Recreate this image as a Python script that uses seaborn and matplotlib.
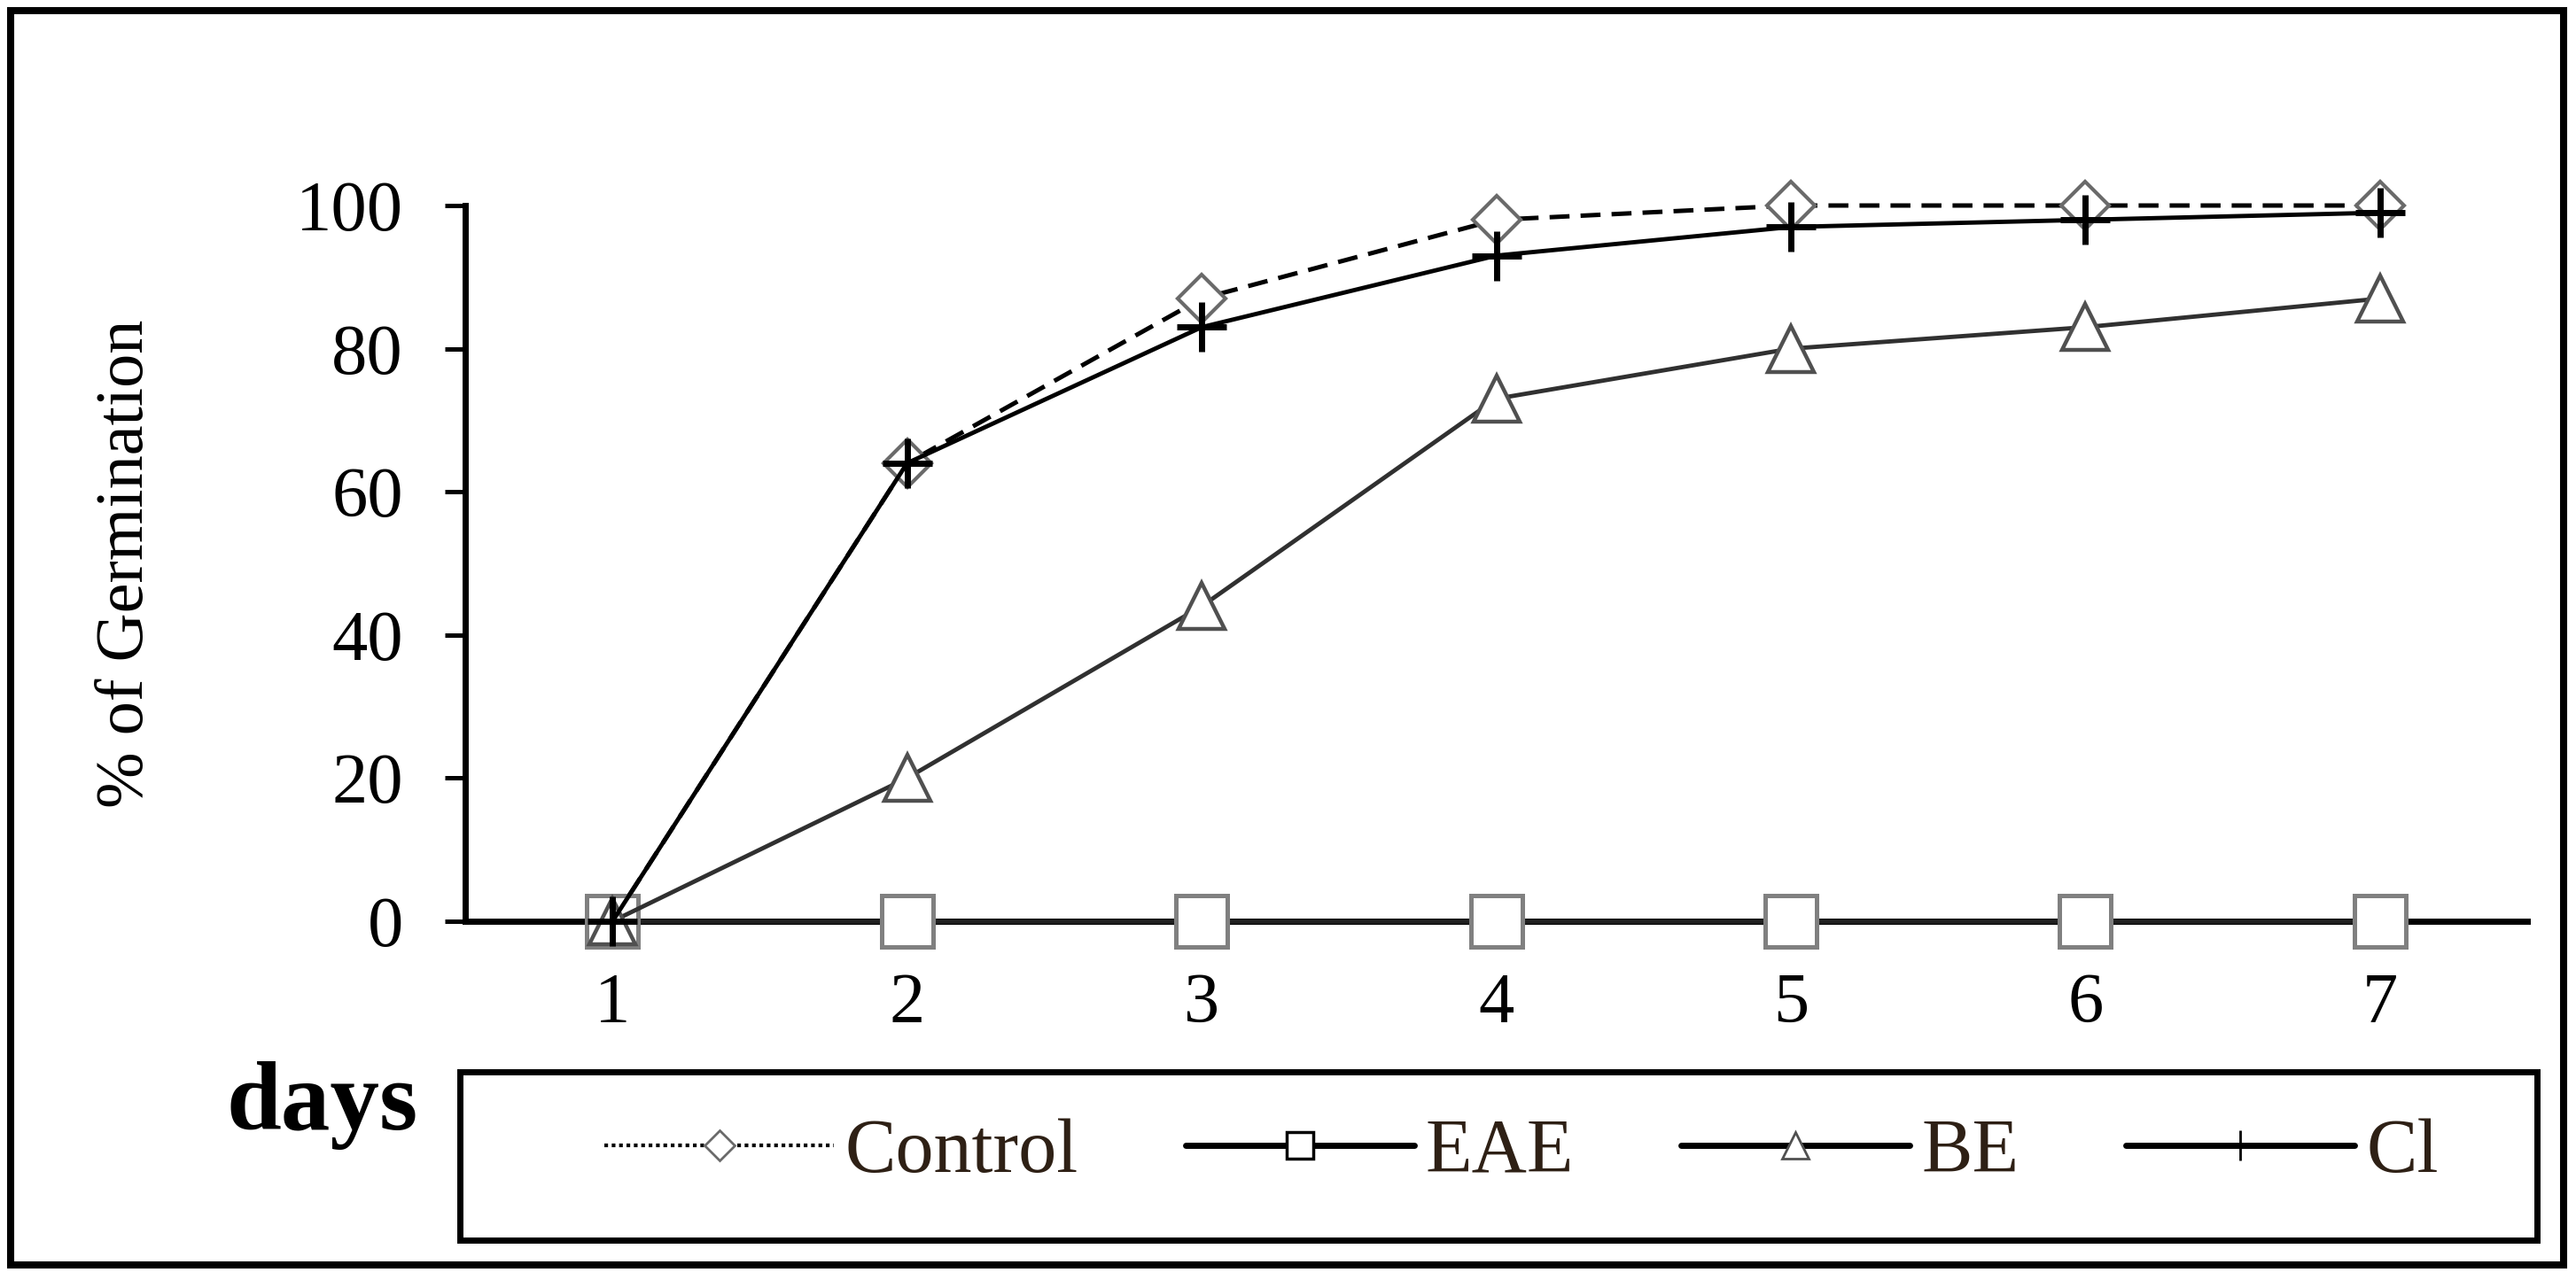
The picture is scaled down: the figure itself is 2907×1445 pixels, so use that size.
import numpy as np
import pandas as pd
import matplotlib
matplotlib.use('Agg')
import matplotlib.pyplot as plt
import seaborn as sns
from matplotlib.lines import Line2D
from matplotlib.patches import Rectangle

# data
days = [1, 2, 3, 4, 5, 6, 7]
control = [0, 64, 87, 98, 100, 100, 100]
eae = [0, 0, 0, 0, 0, 0, 0]
be = [0, 20, 44, 73, 80, 83, 87]
cl = [0, 64, 83, 93, 97, 98, 99]
series_names = ['Control', 'EAE', 'BE', 'Cl']
y_ticks = [0, 20, 40, 60, 80, 100]

df = pd.DataFrame({'day': days * 4,
                   'pct': control + eae + be + cl,
                   'group': np.repeat(series_names, len(days))})

sns.set_style('white')
plt.rcParams['font.family'] = ['Liberation Serif', 'DejaVu Serif']
plt.rcParams['text.color'] = 'black'
plt.rcParams['axes.labelcolor'] = 'black'
plt.rcParams['xtick.color'] = 'black'
plt.rcParams['ytick.color'] = 'black'

W, H = 2907, 1445
fig = plt.figure(figsize=(W / 100, H / 100), dpi=100)
ax = fig.add_axes([525 / W, 1 - 1040 / H, (2852 - 525) / W, (1040 - 232) / H])

styles = {
    'Control': dict(color='black', linestyle=(0, (4.5, 2.5)), lw=3.6, marker='D', markersize=27,
                    mfc='white', mec='#6a6a6a', mew=3),
    'EAE': dict(color='#202020', linestyle='-', lw=3.5, marker='s', markersize=42,
                mfc='white', mec='#808080', mew=3.6),
    'BE': dict(color='#303030', linestyle='-', lw=3.5, marker='^', markersize=38,
               mfc='white', mec='#505050', mew=3.2),
    'Cl': dict(color='black', linestyle='-', lw=3.5, marker='+', markersize=40,
               mfc='black', mec='black', mew=5),
}

for name in series_names:
    st = styles[name]
    sub = df[df['group'] == name]
    sns.lineplot(data=sub, x='day', y='pct', ax=ax, color=st['color'], linestyle=st['linestyle'],
                 linewidth=st['lw'], marker=st['marker'], markersize=st['markersize'],
                 markerfacecolor=st['mfc'], markeredgecolor=st['mec'], markeredgewidth=st['mew'],
                 clip_on=False, legend=False, errorbar=None, zorder=3)

ax.set_xlim(0.5, 7.5)
ax.set_ylim(0, 100)
ax.set_xticks(days)
ax.set_xticks(np.arange(0.5, 8, 1), minor=True)
ax.set_yticks(y_ticks)
ax.tick_params(axis='x', which='major', length=0, pad=42, labelsize=58, labelcolor='black')
ax.tick_params(axis='x', which='minor', direction='out', length=16, width=1.8, color='black')
ax.tick_params(axis='y', which='major', direction='out', length=16.5, width=3.6, pad=34,
               labelsize=58, color='black', labelcolor='black', left=True)
for s in ['top', 'right']:
    ax.spines[s].set_visible(False)
for s in ['left', 'bottom']:
    ax.spines[s].set_linewidth(5)
    ax.spines[s].set_color('black')
    ax.spines[s].set_zorder(2)

ax.set_ylabel('% of Germination', fontsize=55, va='center', color='black')
ax.yaxis.set_label_coords((142 - 525) / (2852 - 525), 0.5)
ax.set_xlabel('days', fontsize=80, fontweight='bold', ha='left', va='baseline', color='black')
ax.xaxis.set_label_coords((255 - 525) / (2852 - 525), (1040 - 1275) / (1040 - 232))

# legend box and outer frame
fig.patches.append(Rectangle((518.5 / W, 1 - 1400 / H), (2862.5 - 518.5) / W, (1400 - 1209.5) / H,
                             transform=fig.transFigure, fill=False, edgecolor='black', lw=5))
fig.patches.append(Rectangle((12 / W, 1 - 1428 / H), (2893 - 12) / W, (1428 - 12) / H,
                             transform=fig.transFigure, fill=False, edgecolor='black', lw=5.8))

handles = [
    Line2D([], [], color='black', linestyle=(0, (1, 1)), lw=3, marker='D', markersize=17,
           mfc='white', mec='#6a6a6a', mew=2),
    Line2D([], [], color='black', linestyle='-', lw=5, marker='s', markersize=22,
           mfc='white', mec='black', mew=2.5),
    Line2D([], [], color='black', linestyle='-', lw=5, marker='^', markersize=22,
           mfc='white', mec='#505050', mew=2),
    Line2D([], [], color='black', linestyle='-', lw=5, marker='+', markersize=25,
           mec='black', mew=2),
]
fig.legend(handles, series_names, loc='center', bbox_to_anchor=(1717 / W, 1 - 1302 / H),
           ncol=4, frameon=False, fontsize=62, handlelength=3.0, handletextpad=0.15,
           columnspacing=1.4, borderpad=0, borderaxespad=0, labelcolor='#2e2015')

fig.savefig('out.png', dpi=100)
